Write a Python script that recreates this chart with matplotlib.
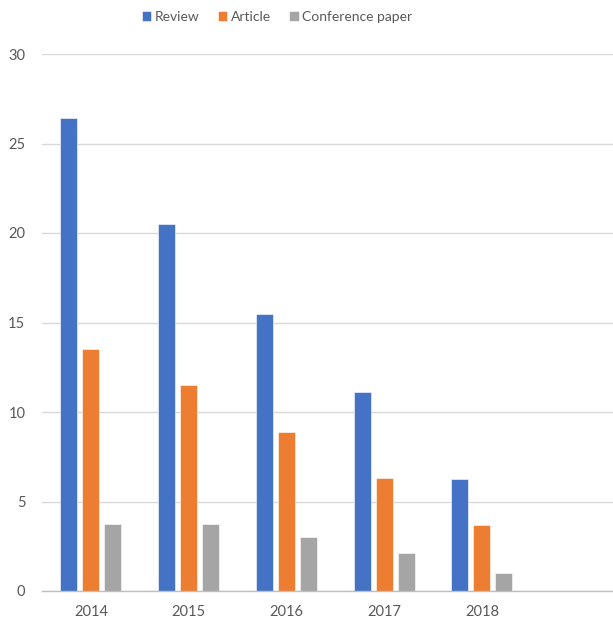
#! /usr/bin python3

import numpy as np
import matplotlib
matplotlib.use('Agg')
import matplotlib.pyplot as plt

years = ['2014', '2015', '2016', '2017', '2018']
review = [26.4, 20.5, 15.5, 11.1, 6.25]
article = [13.5, 11.5, 8.9, 6.3, 3.7]
conference = [3.72, 3.77, 3.0, 2.1, 1.0]

series = [('Review', review, '#4472C4'),
          ('Article', article, '#ED7D31'),
          ('Conference paper', conference, '#A5A5A5')]

plt.rcParams['font.family'] = ['Lato', 'DejaVu Sans']

fig = plt.figure(figsize=(6.13, 6.19), dpi=100)
ax = fig.add_axes([42 / 613, 28 / 619, 1 - 42 / 613, 537 / 619])

x = np.arange(len(years))
w = 0.174
step = 0.225
for i, (name, vals, col) in enumerate(series):
    ax.bar(x + (i - 1) * step, vals, w, color=col, label=name,
           edgecolor='white', linewidth=0.4, zorder=3)

ax.set_xlim(-0.5, 5.34)
ax.set_ylim(0, 30)
ax.set_yticks(range(0, 31, 5))
ax.set_xticks(x)
ax.set_xticklabels(years)

ax.grid(axis='y', color='#D9D9D9', linewidth=1, zorder=0)
for s in ['top', 'right', 'left']:
    ax.spines[s].set_visible(False)
ax.spines['bottom'].set_color('#BFBFBF')
ax.spines['bottom'].set_linewidth(1)
ax.spines['bottom'].set_zorder(4)

ax.tick_params(axis='both', length=0, colors='#595959', labelsize=10.5)
ax.tick_params(axis='y', pad=12)
ax.tick_params(axis='x', pad=10)

fig.legend(loc='center', bbox_to_anchor=(277 / 613, 1 - 17 / 619),
           ncol=3, frameon=False, fontsize=10, labelcolor='#595959',
           handlelength=0.7, handleheight=0.7, handletextpad=0.25,
           columnspacing=1.3)

plt.savefig('out.png', dpi=100)
print("Saved to out.png")
